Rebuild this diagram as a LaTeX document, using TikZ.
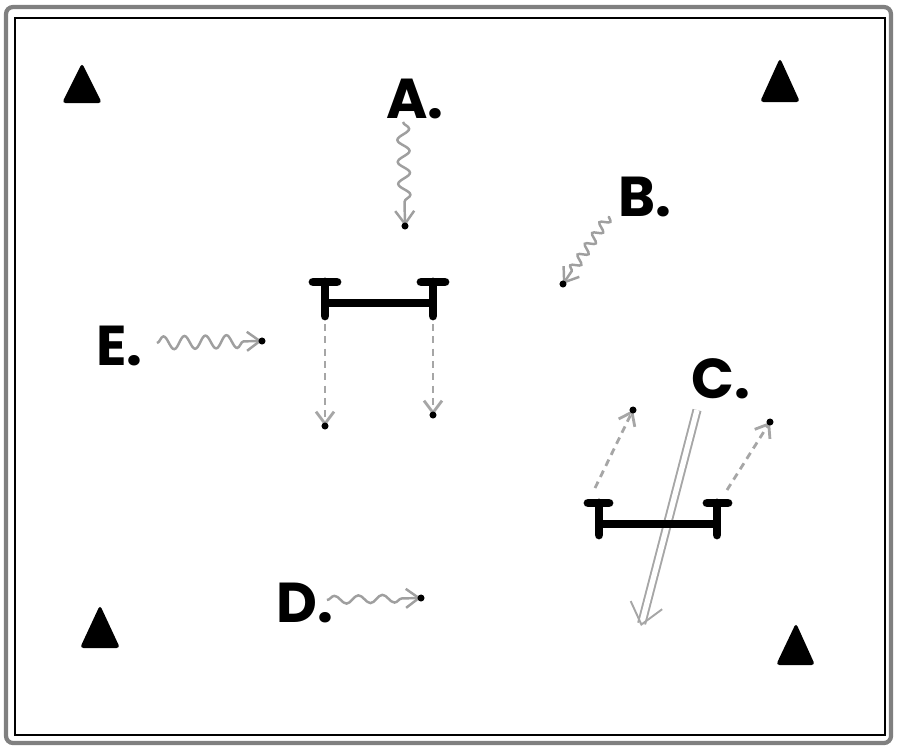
\documentclass[tikz,border=0pt]{standalone}
\usepackage{fontspec}
\setmainfont{Poppins}
\usetikzlibrary{arrows.meta,decorations.pathmorphing}

\begin{document}
\begin{tikzpicture}[x=.02cm, y=-.02cm, line width=.6pt,
    lbl/.style={font=\fontsize{32}{32}\selectfont\bfseries, inner sep=0, anchor=base west},
    cone/.style={fill, rounded corners=2pt},
    wave/.style 2 args={gray!75, line width=1.4pt, -{Straight Barb[length=2.6mm, width=3.8mm]},
        decorate, decoration={snake, amplitude=#1, segment length=#2, post length=3mm}},
    pass/.style={gray!70, line width=1.6pt, dash pattern=on 4pt off 3pt,
        -{Straight Barb[length=2.4mm, width=3.6mm]}},
    player/.style={line width=5pt, line cap=round},
    tip/.style={fill, radius=2pt}]
    \useasboundingbox (0,0) rectangle (900,752);
    % field frame
    \draw[gray, line width=2.4pt, rounded corners=4pt] (6,7) rectangle (891,743);
    \draw (15,18) rectangle (885,735);
    % cones
    \fill[cone] (82,63) -- (102,103) -- (62,103) -- cycle;
    \fill[cone] (780,58) -- (800,102) -- (760,102) -- cycle;
    \fill[cone] (100,605) -- (120,648) -- (80,648) -- cycle;
    \fill[cone] (796,623) -- (815,665) -- (776,665) -- cycle;
    % labels
    \node[lbl] (A) at (386,118) {A.};
    \node[lbl] (B) at (618,216) {B.};
    \node[lbl] (C) at (691,398) {C.};
    \node[lbl] (D) at (276,622) {D.};
    \node[lbl] (E) at (96,365) {E.};
    % runs
    \coordinate (a0) at (403,122); \coordinate (a1) at (405,226);
    \coordinate (b0) at (609,216); \coordinate (b1) at (563,284);
    \coordinate (e0) at (157,343); \coordinate (e1) at (262,341);
    \coordinate (d0) at (327,600); \coordinate (d1) at (421,598);
    \draw[wave={1.2mm}{4.4mm}] (a0) -- (a1);
    \draw[wave={.9mm}{2.6mm}] (b0) -- (b1);
    \draw[wave={1.3mm}{4.2mm}] (e0) -- (e1);
    \draw[wave={.8mm}{4.8mm}] (d0) -- (d1);
    \fill[tip] (a1) circle; \fill[tip] (b1) circle;
    \fill[tip] (e1) circle; \fill[tip] (d1) circle;
    % top pair
    \coordinate (p1) at (325,282); \coordinate (p2) at (433,282);
    \draw[player] (313,282) -- (337,282);
    \draw[player] (421,282) -- (445,282);
    \draw[player] (p1) -- (325,316);
    \draw[player] (p2) -- (433,316);
    \draw[line width=4.2pt] (325,303) -- (433,303);
    \coordinate (q1) at (325,426); \coordinate (q2) at (433,415);
    \draw[pass] (325,324) -- (q1);
    \draw[pass] (433,324) -- (q2);
    \fill[tip] (q1) circle; \fill[tip] (q2) circle;
    % shot
    \coordinate (c0) at (697,410); \coordinate (c1) at (641,626);
    \draw[gray!70, line width=1.1pt, double=white, double distance=3pt,
        -{Straight Barb[length=4mm, width=6.5mm]}] (c0) -- (c1);
    % bottom pair
    \draw[player] (588,503) -- (609,503);
    \draw[player] (707,503) -- (728,503);
    \draw[player] (599,503) -- (599,535);
    \draw[player] (717,503) -- (717,535);
    \draw[line width=4.2pt] (599,524) -- (717,524);
    \coordinate (r0) at (595,488); \coordinate (r1) at (633,410);
    \coordinate (s0) at (727,490); \coordinate (s1) at (770,422);
    \draw[pass] (r0) -- (r1);
    \draw[pass] (s0) -- (s1);
    \fill[tip] (r1) circle; \fill[tip] (s1) circle;
\end{tikzpicture}
\end{document}
